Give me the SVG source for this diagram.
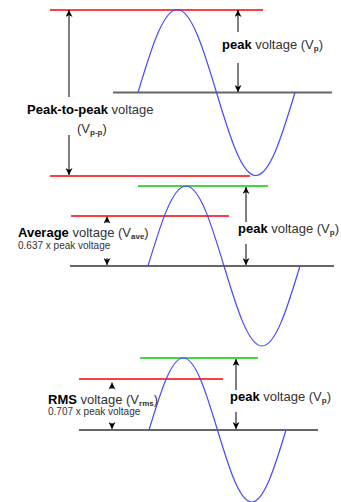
<svg xmlns="http://www.w3.org/2000/svg" width="341" height="502" viewBox="0 0 341 502">
<style>
text{font-family:"Liberation Sans",Arial,sans-serif;fill:#333}
.big{font-size:13px}
.small{font-size:10px}
.b{font-weight:bold;fill:#000}
.sub{font-size:8px;font-weight:bold}
.red{stroke:#ff0000;stroke-width:1.4;fill:none}
.green{stroke:#00cc00;stroke-width:1.4;fill:none}
.axis{stroke:#666;stroke-width:2;fill:none}
.wave{stroke:#4848ff;stroke-width:1.2;fill:none}
.arr{stroke:#000;stroke-width:1;fill:none;marker-end:url(#ah)}
</style>
<defs>
<marker id="ah" viewBox="0 0 10 10" refX="10" refY="5" markerWidth="7" markerHeight="7" markerUnits="userSpaceOnUse" orient="auto">
<path d="M0,0 L10,5 L0,10 L3,5 Z" fill="#000"/>
</marker>
</defs>
<rect width="341" height="502" fill="#fff"/>
<g id="panel-peak-to-peak">
<line class="red" x1="50" y1="10" x2="263" y2="10"/>
<line class="red" x1="50" y1="176" x2="250" y2="176"/>
<line class="axis" x1="113" y1="92.5" x2="332" y2="92.5"/>
<path class="wave" d="M138,92.5 C150.8,50 163.05,9.5 177.25,9.5 S203.7,50 216.5,92.5 S241.55,175.5 255.75,175.5 S282.2,135 295,92.5"/>
<text class="big" x="222" y="49"><tspan class="b">peak</tspan> voltage (V<tspan class="sub" dy="2">p</tspan><tspan dy="-2">)</tspan></text>
<text class="big" x="27" y="114"><tspan class="b">Peak-to-peak</tspan> voltage</text>
<text class="big" x="77" y="133">(V<tspan class="sub" dy="2">p-p</tspan><tspan dy="-2">)</tspan></text>
</g>
<g id="panel-average">
<line class="green" x1="138" y1="186" x2="268" y2="186"/>
<line class="red" x1="71" y1="216" x2="229" y2="216"/>
<line class="axis" x1="70" y1="266" x2="334" y2="266"/>
<path class="wave" d="M148,266 C160.39,225.02 172.25,186 186,186 S211.61,225.02 224,266 S248.25,346 262,346 S287.61,306.98 300,266"/>
<text class="big" x="238" y="233"><tspan class="b">peak</tspan> voltage (V<tspan class="sub" dy="2">p</tspan><tspan dy="-2">)</tspan></text>
<text class="big" x="18" y="236.5"><tspan class="b">Average</tspan> voltage (V<tspan class="sub" dy="2">ave</tspan><tspan dy="-2">)</tspan></text>
<text class="small" x="18" y="248.5">0.637 x peak voltage</text>
</g>
<g id="panel-rms">
<line class="green" x1="140" y1="358" x2="258" y2="358"/>
<line class="red" x1="79" y1="379" x2="223" y2="379"/>
<line class="axis" x1="79" y1="430" x2="318" y2="430"/>
<path class="wave" d="M149,430 C160.17,393.11 170.85,358 183.25,358 S206.33,393.11 217.5,430 S239.35,502 251.75,502 S274.83,466.89 286,430"/>
<text class="big" x="230" y="401"><tspan class="b">peak</tspan> voltage (V<tspan class="sub" dy="2">p</tspan><tspan dy="-2">)</tspan></text>
<text class="big" x="48" y="403.5"><tspan class="b">RMS</tspan> voltage (V<tspan class="sub" dy="2">rms</tspan><tspan dy="-2">)</tspan></text>
<text class="small" x="48" y="415">0.707 x peak voltage</text>
</g>
<g id="connectors">
<line class="arr" x1="69" y1="97" x2="69" y2="10"/>
<line class="arr" x1="69" y1="135" x2="69" y2="175"/>
<line class="arr" x1="238" y1="32" x2="238" y2="10"/>
<line class="arr" x1="238" y1="63" x2="238" y2="92"/>
<line class="arr" x1="246" y1="222" x2="246" y2="187"/>
<line class="arr" x1="246" y1="244" x2="246" y2="265"/>
<line class="arr" x1="107" y1="223" x2="107" y2="216.5"/>
<line class="arr" x1="107" y1="258" x2="107" y2="265"/>
<line class="arr" x1="236" y1="390" x2="236" y2="359"/>
<line class="arr" x1="236" y1="412" x2="236" y2="429"/>
<line class="arr" x1="112" y1="389" x2="112" y2="382.5"/>
<line class="arr" x1="112" y1="423" x2="112" y2="429"/>
</g>
</svg>
